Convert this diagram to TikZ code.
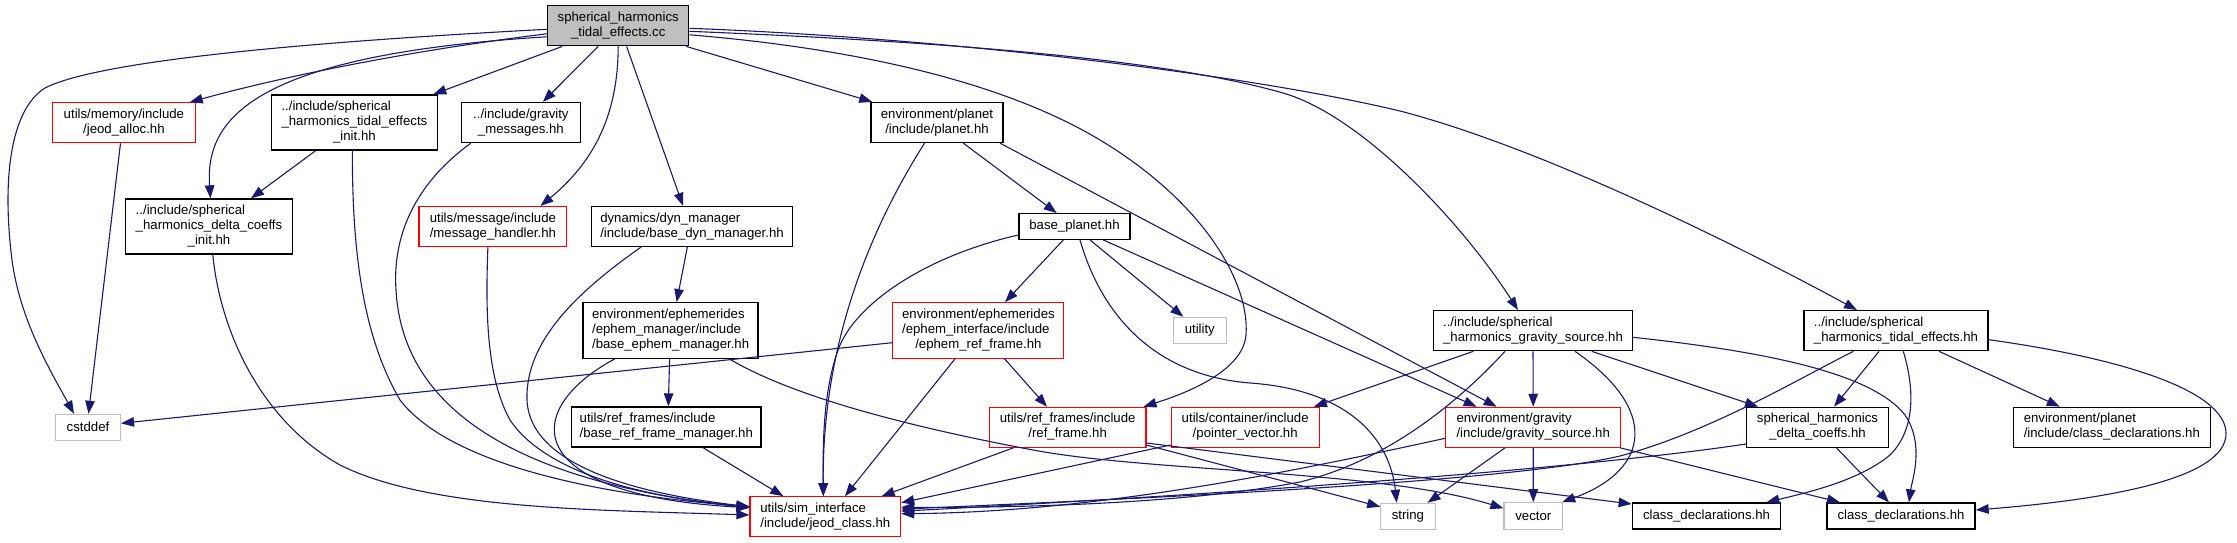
\documentclass[tikz,border=0pt]{standalone}
\usepackage{fontspec}
\setmainfont{Liberation Sans}
\usetikzlibrary{arrows.meta}
\definecolor{edgecol}{HTML}{191970}
\definecolor{grayline}{HTML}{BFBFBF}
\definecolor{redline}{HTML}{FF0000}
\newcommand\nlab[2]{\begin{tabular}{@{}l@{}}#1\\\multicolumn{1}{@{}c@{}}{#2}\end{tabular}}
\begin{document}
\begin{tikzpicture}[x=1pt,y=-1pt,
  base/.style={rectangle,inner sep=0pt,font=\fontsize{13.2}{15}\selectfont},
  bbox/.style={base,draw=black,line width=1.3pt},
  rbox/.style={base,draw=redline,line width=1.1pt},
  gbox/.style={base,draw=grayline,line width=1.1pt},
  mainbox/.style={bbox,fill=grayline},
  edge/.style={draw=edgecol,line width=1.1pt,-{Triangle[length=13pt,width=9.5pt]}},
  sz/.style 2 args={minimum width=#1pt,minimum height=#2pt}
]
\fill[white] (0,0) rectangle (2237,543);
\useasboundingbox (0,0) rectangle (2237,543);

% nodes
\node[mainbox,sz={141}{40}] (main) at (618.2,25.8) {\nlab{spherical\_harmonics}{\_tidal\_effects.cc}};
\node[rbox,sz={142.6}{40}] (alloc) at (123.9,122.7) {\nlab{utils/memory/include}{/jeod\_alloc.hh}};
\node[bbox,sz={166.5}{55}] (tinit) at (354.4,122.5) {\nlab{../include/spherical\\\_harmonics\_tidal\_effects}{\_init.hh}};
\node[bbox,sz={118.6}{40}] (gmsg) at (520.9,122.5) {\nlab{../include/gravity}{\_messages.hh}};
\node[bbox,sz={132.2}{40}] (planet) at (937,122.5) {\nlab{environment/planet}{/include/planet.hh}};
\node[bbox,sz={166.4}{55}] (dinit) at (209,226.5) {\nlab{../include/spherical\\\_harmonics\_delta\_coeffs}{\_init.hh}};
\node[rbox,sz={147.8}{40}] (msgh) at (492.9,226.5) {\nlab{utils/message/include}{/message\_handler.hh}};
\node[bbox,sz={200.7}{40}] (bdyn) at (692,226.5) {\nlab{dynamics/dyn\_manager}{/include/base\_dyn\_manager.hh}};
\node[bbox,sz={111}{25.6}] (bplanet) at (1074.5,226.5) {base\_planet.hh};
\node[bbox,sz={175}{55.6}] (bephem) at (670.6,330.5) {\nlab{environment/ephemerides\\/ephem\_manager/include}{/base\_ephem\_manager.hh}};
\node[rbox,sz={171}{55.6}] (erf) at (978.4,330.5) {\nlab{environment/ephemerides\\/ephem\_interface/include}{/ephem\_ref\_frame.hh}};
\node[gbox,sz={52.5}{26}] (utility) at (1199.8,330.3) {utility};
\node[bbox,sz={199}{40}] (shgs) at (1533,330.7) {\nlab{../include/spherical}{\_harmonics\_gravity\_source.hh}};
\node[bbox,sz={184.2}{40}] (shte) at (1896,330.7) {\nlab{../include/spherical}{\_harmonics\_tidal\_effects.hh}};
\node[gbox,sz={65}{25.7}] (cstddef) at (88,427.2) {cstddef};
\node[bbox,sz={189.5}{40}] (brfm) at (666.3,427) {\nlab{utils/ref\_frames/include}{/base\_ref\_frame\_manager.hh}};
\node[rbox,sz={156.7}{40}] (rf) at (1067.6,427.3) {\nlab{utils/ref\_frames/include}{/ref\_frame.hh}};
\node[rbox,sz={148.3}{40}] (pv) at (1245.2,427.3) {\nlab{utils/container/include}{/pointer\_vector.hh}};
\node[rbox,sz={175}{40}] (egs) at (1533.2,427.3) {\nlab{environment/gravity}{/include/gravity\_source.hh}};
\node[bbox,sz={141.6}{40}] (dc) at (1817.5,427.3) {\nlab{spherical\_harmonics}{\_delta\_coeffs.hh}};
\node[bbox,sz={197.3}{40}] (cdp) at (2111.8,427.3) {\nlab{environment/planet}{/include/class\_declarations.hh}};
\node[rbox,sz={150.7}{40}] (jeod) at (825.3,516.7) {\nlab{utils/sim\_interface}{/include/jeod\_class.hh}};
\node[gbox,sz={54.3}{26}] (string) at (1407.9,516.3) {string};
\node[gbox,sz={58.7}{26.6}] (vector) at (1533.3,516) {vector};
\node[bbox,sz={148.4}{26}] (cd1) at (1706.5,516) {class\_declarations.hh};
\node[bbox,sz={148}{26}] (cd2) at (1901,516) {class\_declarations.hh};

% edges from main
\draw[edge] ([yshift=-3.5pt]main.west) .. controls (250,45) and (90,65) .. (45,88)
  .. controls (10,110) and (2,180) .. (12,260)
  .. controls (20,320) and (50,370) .. ([xshift=-14pt]cstddef.north);
\draw[edge] ([yshift=-8pt]main.west) .. controls (430,48) and (300,72) .. ([xshift=-6pt]alloc.north east);
\draw[edge] ([yshift=-11pt]main.west) .. controls (250,55) and (205,120) .. ([xshift=1.5pt]dinit.north);
\draw[edge] ([xshift=-56pt]main.south) -- ([xshift=-5pt]tinit.north east);
\draw[edge] ([xshift=-20pt]main.south) -- ([xshift=22pt]gmsg.north);
\draw[edge] (main.south) .. controls (618,120) and (590,165) .. ([xshift=47.6pt]msgh.north);
\draw[edge] ([xshift=8.4pt]main.south) -- ([xshift=-9pt]bdyn.north);
\draw[edge] ([xshift=-3pt]main.south east) -- ([xshift=2pt]planet.north west);
\draw[edge] ([yshift=-9pt]main.east) .. controls (850,48) and (1000,80) .. (1100,140)
  .. controls (1200,200) and (1250,280) .. (1246,335)
  .. controls (1243,370) and (1190,392) .. ([xshift=-3pt]rf.north east);
\draw[edge] ([yshift=-5.5pt]main.east) .. controls (900,40) and (1150,55) .. (1283,93)
  .. controls (1360,115) and (1460,220) .. ([xshift=-15pt]shgs.north);
\draw[edge] ([yshift=-2.5pt]main.east) .. controls (950,38) and (1250,75) .. (1400,111)
  .. controls (1550,150) and (1757,255.7) .. ([xshift=-39pt]shte.north);

% left part
\draw[edge] ([xshift=-3.4pt]alloc.south) -- ([xshift=0.5pt]cstddef.north);
\draw[edge] ([xshift=-38.7pt]tinit.south) -- ([xshift=42pt]dinit.north);
\draw[edge] ([xshift=-2pt]tinit.south) .. controls (352,260) and (365,340) .. (400,400)
  .. controls (450,465) and (600,495) .. ([yshift=10pt]jeod.west);
\draw[edge] ([xshift=-50pt]gmsg.south) .. controls (420,180) and (392,230) .. (396,290)
  .. controls (402,400) and (500,480) .. ([yshift=9pt]jeod.west);
\draw[edge] ([xshift=-5pt]msgh.south) .. controls (485,320) and (488,380) .. (510,420)
  .. controls (540,465) and (620,495) .. ([yshift=10pt]jeod.west);
\draw[edge] ([xshift=-51pt]bdyn.south) .. controls (580,290) and (525,340) .. (527,400)
  .. controls (530,470) and (650,495) .. ([yshift=10pt]jeod.west);
\draw[edge] ([xshift=-56pt]bephem.south) .. controls (520,410) and (520,495) .. ([yshift=9pt]jeod.west);
\draw[edge] ([xshift=3.8pt]dinit.south) .. controls (220,330) and (260,420) .. (340,465)
  .. controls (430,510) and (600,510) .. ([yshift=1.7pt]jeod.west);
\draw[edge] ([xshift=-4.7pt]bdyn.south) -- ([xshift=6pt]bephem.north);
\draw[edge] ([xshift=-1pt]bephem.south) -- ([xshift=2pt]brfm.north);
\draw[edge] ([xshift=58.8pt]bephem.south) .. controls (790,395) and (900,425) .. (1033,450)
  .. controls (1150,472) and (1380,470) .. ([yshift=7.7pt]vector.west);
\draw[edge] ([xshift=36.7pt]brfm.south) -- ([xshift=-42pt]jeod.north);

% planet / base planet
\draw[edge] ([yshift=-8.5pt]bplanet.west) .. controls (930,255) and (860,300) .. (840,345)
  .. controls (822,390) and (823,450) .. ([xshift=-2pt]jeod.north);
\draw[edge] ([xshift=-12.5pt]planet.south) .. controls (860,245) and (822,360) .. ([xshift=-2pt]jeod.north);
\draw[edge] ([xshift=26.3pt]planet.south) -- ([xshift=-17.8pt]bplanet.north);
\draw[edge] ([xshift=63pt]planet.south) -- ([xshift=-36.5pt]egs.north);
\draw[edge] ([xshift=-11.2pt]bplanet.south) -- ([xshift=26.6pt]erf.north);
\draw[edge] ([xshift=5.5pt]bplanet.south) .. controls (1100,310) and (1150,375) .. (1250,383)
  .. controls (1350,390) and (1390,440) .. ([xshift=-11.2pt]string.north);
\draw[edge] ([xshift=15.5pt]bplanet.south) -- ([xshift=-16.5pt]utility.north);
\draw[edge] ([xshift=28.8pt]bplanet.south) -- ([xshift=-56.5pt]egs.north);

% ephem ref frame
\draw[edge] ([xshift=-23.4pt]erf.south) -- ([xshift=19.7pt]jeod.north);
\draw[edge] ([xshift=26.2pt]erf.south) -- ([xshift=-20.6pt]rf.north);
\draw[edge] ([yshift=-12.2pt]erf.west) -- ([yshift=3.9pt]cstddef.east);

% ref frame, pointer vector
\draw[edge] ([xshift=-54.3pt]rf.south) -- ([xshift=56.4pt]jeod.north);
\draw[edge] ([yshift=-17.7pt]rf.east) -- ([yshift=9.6pt]string.west);
\draw[edge] ([yshift=-15.7pt]rf.east) -- ([yshift=12pt]cd1.west);
\draw[edge] ([yshift=-17.7pt]pv.west) -- ([yshift=14pt]jeod.east);

% gravity source (spherical harmonics)
\draw[edge] ([xshift=-59.7pt]shgs.south) -- ([xshift=-6pt]pv.north east);
\draw[edge] ([xshift=-28pt]shgs.south) .. controls (1460,400) and (1390,460) .. (1300,482)
  .. controls (1180,505) and (1000,508) .. ([yshift=9.5pt]jeod.east);
\draw[edge] (shgs.south) -- (egs.north);
\draw[edge] ([xshift=42pt]shgs.south) .. controls (1660,410) and (1650,470) .. ([xshift=-1pt]vector.north east);
\draw[edge] ([xshift=58.7pt]shgs.south) -- ([xshift=12pt]dc.north west);
\draw[edge] ([yshift=-6.6pt]shgs.east) .. controls (1750,350) and (1870,370) .. (1905,415)
  .. controls (1925,445) and (1912,480) .. ([xshift=8pt]cd2.north);

% tidal effects
\draw[edge] ([xshift=-42.7pt]shte.south) .. controls (1800,378) and (1710,432) .. (1620,456)
  .. controls (1500,484) and (1100,500) .. ([yshift=7.5pt]jeod.east);
\draw[edge] ([xshift=-17pt]shte.south) -- ([xshift=16.5pt]dc.north);
\draw[edge] ([xshift=7.3pt]shte.south) .. controls (1915,390) and (1915,430) .. (1890,455)
  .. controls (1860,480) and (1810,492) .. ([xshift=-15pt]cd1.north east);
\draw[edge] ([xshift=43pt]shte.south) -- ([xshift=-52pt]cdp.north);
\draw[edge] ([yshift=-9pt]shte.east) .. controls (2120,358) and (2225,390) .. (2226,433)
  .. controls (2227,480) and (2100,500) .. ([yshift=6pt]cd2.east);

% delta coeffs
\draw[edge] ([yshift=-16.7pt]dc.west) .. controls (1600,466) and (1300,490) .. ([yshift=5.5pt]jeod.east);
\draw[edge] ([xshift=19pt]dc.south) -- ([xshift=-12pt]cd2.north);

% environment gravity source
\draw[edge] ([yshift=-11pt]egs.west) .. controls (1300,470) and (1100,512) .. ([yshift=3pt]jeod.east);
\draw[edge] ([xshift=-28.2pt]egs.south) -- ([xshift=-8pt]string.north east);
\draw[edge] (egs.south) -- (vector.north);
\draw[edge] ([xshift=-1pt]egs.south east) -- ([xshift=-61pt]cd2.north);
\end{tikzpicture}
\end{document}
